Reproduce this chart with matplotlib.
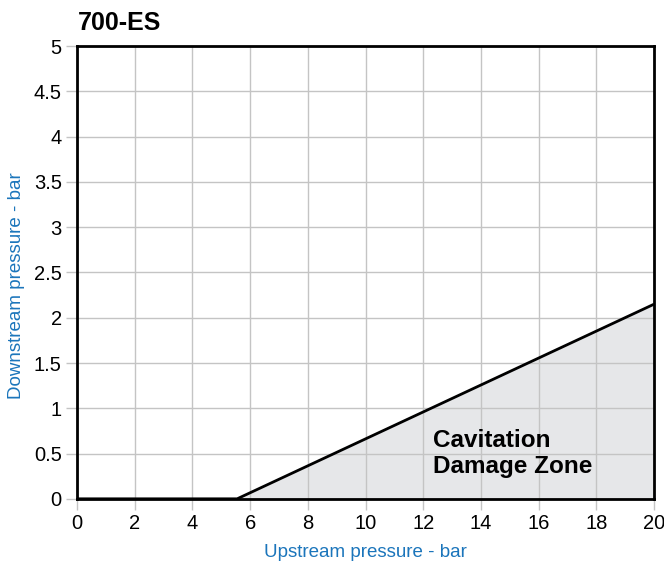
import numpy as np
import matplotlib
matplotlib.use("Agg")
import matplotlib.pyplot as plt

plt.rcParams['font.family'] = ['Liberation Sans', 'DejaVu Sans']

# Cavitation limit line (upstream bar, downstream bar)
limit_x = [0, 5.55, 20]
limit_y = [0, 0, 2.15]

x_ticks = list(range(0, 21, 2))
y_ticks = [0, 0.5, 1, 1.5, 2, 2.5, 3, 3.5, 4, 4.5, 5]
y_labels = ["0", "0.5", "1", "1.5", "2", "2.5", "3", "3.5", "4", "4.5", "5"]

label_blue = "#1b75bb"
grid_grey = "#c4c4c4"

fig = plt.figure(figsize=(6.64, 5.63), dpi=100)
ax = fig.add_axes([0.116, 0.114, 0.869, 0.804])

ax.fill_between(limit_x, 0, limit_y, color="#e6e7e9", lw=0, zorder=0.2)
ax.plot(limit_x, limit_y, color="black", lw=2, zorder=3, solid_capstyle="butt")

ax.set_xlim(0, 20)
ax.set_ylim(0, 5)
ax.set_xticks(x_ticks)
ax.set_yticks(y_ticks)
ax.set_yticklabels(y_labels)
ax.grid(True, color=grid_grey, lw=1, zorder=1)
ax.set_axisbelow(False)
ax.tick_params(axis="both", length=8, width=1, color=grid_grey, labelsize=14.5, pad=3)

for s in ax.spines.values():
    s.set_linewidth(2)
    s.set_zorder(4)

ax.set_xlabel("Upstream pressure - bar", color=label_blue, fontsize=13.5, labelpad=8)
ax.set_ylabel("Downstream pressure - bar", color=label_blue, fontsize=13.5)
ax.yaxis.set_label_coords(-0.09, 0.472)

ax.text(12.35, 0.5, "Cavitation\nDamage Zone", fontsize=17.5, fontweight="bold",
        ha="left", va="center", linespacing=1.2, zorder=5)

fig.text(0.118, 0.96, "700-ES", fontsize=18, fontweight="bold", ha="left", va="center")

fig.savefig("out.png", dpi=100)
